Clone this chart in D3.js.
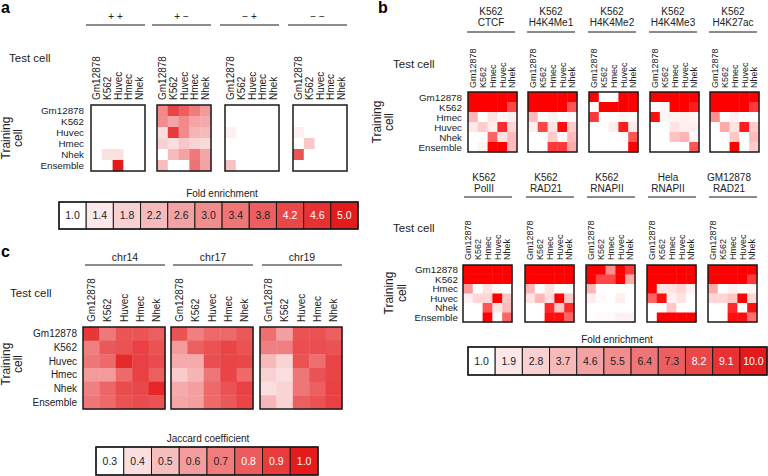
<!DOCTYPE html>
<html><head><meta charset="utf-8">
<script src="https://cdn.jsdelivr.net/npm/d3@7"></script>
<style>
body{margin:0;background:#fff}
svg{display:block}
text{font-family:"Liberation Sans",Arial,Helvetica,sans-serif;fill:#222}
</style></head>
<body><svg id="fig" width="768" height="476"></svg>
<script>
// ---------------- DATA ----------------
// Panel a
const testCellsA = ["Gm12878","K562","Huvec","Hmec","Nhek"];
const trainCellsA = ["Gm12878","K562","Huvec","Hmec","Nhek","Ensemble"];
const groupsA = ["+ +","+ \u2212","\u2212 +","\u2212 \u2212"];
const foldPP = [
  [1,1,1,1,1],[1,1,1,1,1],[1,1,1,1,1],[1,1,1,1,1],[1,1.55,1.55,1,1],[1,1,5.0,1,1]];
const foldPM = [
  [3.06,4.28,3.82,3.27,2.76],
  [3.0,2.59,3.04,2.59,2.48],
  [1.62,4.44,3.04,2.3,2.2],
  [1.8,1.58,2.0,1.76,1.67],
  [1.0,2.18,2.62,3.36,2.57],
  [2.16,1.0,1.0,3.45,2.62]];
const foldMP = [
  [1,1,1,1,1],[1,1,1,1,1],[1.26,1,1,1,1],[1,1,1,1,1],[1,1,1,1,1],[2.06,1,1,1,1]];
const foldMM = [
  [1,1,1,1,1],[1,1,1,1,1],[1.26,1,1,1,1],[1,1.95,1,1,1],[4.0,1,1,1,1],[1,1,1,1,1]];
const legendTicksA = ["1.0","1.4","1.8","2.2","2.6","3.0","3.4","3.8","4.2","4.6","5.0"];

// Panel b
const testCellsB = ["Gm12878","K562","Hmec","Huvec","Nhek"];
const trainCellsB = ["Gm12878","K562","Hmec","Huvec","Nhek","Ensemble"];
const titlesBTop = [["K562","CTCF"],["K562","H4K4Me1"],["K562","H4K4Me2"],["K562","H4K4Me3"],["K562","H4K27ac"]];
const titlesBBottom = [["K562","PolII"],["K562","RAD21"],["K562","RNAPII"],["Hela","RNAPII"],["GM12878","RAD21"]];
const foldCTCF = [
  [10,10,10,10,10],[10,10,10,10,7.5],[3.6,1,2.0,1.2,1.6],[1.8,2.8,1.6,8.5,2.5],[1,1,6.5,2.0,3.4],[1,1.4,10,10,3.4]];
const foldH4K4Me1 = [
  [10,10,10,10,10],[10,10,10,10,7],[3.4,1,1.4,1,1.2],[1.6,7.5,2.0,9.5,2.8],[1,1,2.8,1.2,3.4],[1,1,8,8,4]];
const foldH4K4Me2 = [
  [10,1,1,10,10],[1,10,10,10,10],[8,1,1,1.3,1.2],[1,1,1.6,9,1.8],[1,1,1,1,7],[1,1,1,1,10]];
const foldH4K4Me3 = [
  [10,10,10,10,10],[1,1.3,10,10,9],[9.5,1.4,1.4,1.6,1.3],[1,1,2,1.6,1.6],[1,1,3.2,3.6,1.2],[1,1,1,1,7]];
const foldH4K27ac = [
  [10,10,10,10,10],[10,10,10,10,8],[5,1,1.5,1,1],[1,4,2,9,2.8],[1,1,3,1,3.4],[1,1,10,1,2.8]];
const foldPolII = [
  [10,10,10,10,10],[10,10,10,10,10],[4.6,1,2,1.2,1],[1.5,2.5,2.5,10,3],[1,1,7,2,3.5],[1,1,10,1,6.5]];
const foldRAD21 = [
  [10,10,10,10,10],[10,10,10,10,10],[3.6,1,2,1,1],[2,3.5,2.2,10,3],[1,1,8.5,3,8.5],[1,1,9.5,9.5,6.5]];
const foldRNAPII = [
  [10,10,5,10,8],[10,7.5,7.5,10,4],[3.6,1,1,1,1],[1.6,1.2,1,1.6,1],[1,1,1,1,1],[1,1.2,1.2,1.5,1.5]];
const foldHelaRNAPII = [
  [10,10,10,10,10],[10,10,10,10,10],[10,2,2,2.5,1.5],[6.5,9.5,1.5,2,1],[1,1,3,1,1],[1,10,10,10,10]];
const foldGMRAD21 = [
  [10,10,10,10,10],[10,10,10,10,8],[4,1,1.5,1,1.3],[2.5,2.5,3,10,2.5],[1,1,8.5,1,9.5],[1,1,9.5,9.5,6]];
const legendTicksB = ["1.0","1.9","2.8","3.7","4.6","5.5","6.4","7.3","8.2","9.1","10.0"];

// Panel c
const testCellsC = ["Gm12878","K562","Huvec","Hmec","Nhek"];
const trainCellsC = ["Gm12878","K562","Huvec","Hmec","Nhek","Ensemble"];
const chromsC = ["chr14","chr17","chr19"];
const jacChr14 = [
  [0.91,0.71,0.82,0.82,0.79],
  [0.69,0.81,0.83,0.88,0.83],
  [0.72,0.76,0.95,0.88,0.85],
  [0.61,0.61,0.76,0.88,0.79],
  [0.69,0.77,0.85,0.86,0.96],
  [0.72,0.76,0.83,0.85,0.83]];
const jacChr17 = [
  [0.83,0.69,0.76,0.76,0.81],
  [0.61,0.79,0.83,0.87,0.83],
  [0.56,0.56,0.84,0.87,0.86],
  [0.46,0.53,0.72,0.87,0.76],
  [0.56,0.59,0.76,0.83,0.88],
  [0.57,0.59,0.76,0.81,0.87]];
const jacChr19 = [
  [0.74,0.59,0.83,0.83,0.79],
  [0.69,0.69,0.84,0.84,0.83],
  [0.51,0.43,0.83,0.74,0.87],
  [0.44,0.40,0.72,0.83,0.87],
  [0.40,0.43,0.72,0.79,0.88],
  [0.52,0.43,0.79,0.83,0.88]];
const legendTicksC = ["0.3","0.4","0.5","0.6","0.7","0.8","0.9","1.0"];

// ---------------- DRAW ----------------
const svg = d3.select("#fig");
const FONT_DARK = "#222";
const BORDER = "#1a1a1a";

const colorA = d3.scaleLinear().domain([1,5]).range(["#ffffff","#e41a1c"]).interpolate(d3.interpolateRgb).clamp(true);
const colorB = d3.scaleLinear().domain([1,10]).range(["#ffffff","#ff0000"]).interpolate(d3.interpolateRgb).clamp(true);
const colorBLegend = d3.scaleLinear().domain([1,10]).range(["#ffffff","#e41a1c"]).interpolate(d3.interpolateRgb).clamp(true);
const colorC = d3.scaleLinear().domain([0.3,1.0]).range(["#ffffff","#e41a1c"]).interpolate(d3.interpolateRgb).clamp(true);

function heatmap(o) {
  const xs = d3.scaleBand().domain(o.cols).range([o.x, o.x + o.w]);
  const ys = d3.scaleBand().domain(o.rows).range([o.y, o.y + o.h]);
  const g = svg.append("g");
  const cells = [];
  o.rows.forEach((r, i) => o.cols.forEach((c, j) => cells.push({r, c, v: o.values[i][j]})));
  g.selectAll("rect.cell").data(cells).join("rect")
    .attr("class","cell")
    .attr("x", d => xs(d.c)).attr("y", d => ys(d.r))
    .attr("width", xs.bandwidth() + 0.4).attr("height", ys.bandwidth() + 0.4)
    .attr("fill", d => o.color(d.v));
  g.append("rect").attr("x", o.x).attr("y", o.y).attr("width", o.w).attr("height", o.h)
    .attr("fill","none").attr("stroke", BORDER).attr("stroke-width", 1.5);
  g.selectAll("text.col").data(o.cols).join("text")
    .attr("class","col")
    .attr("transform", d => `translate(${xs(d) + xs.bandwidth()/2},${o.labelBottom}) rotate(-90)`)
    .attr("dy","0.36em").attr("font-size", o.colFont).text(d => d);
  return {xs, ys};
}

function rowLabels(ys, rows, xRight, fs) {
  svg.append("g").selectAll("text").data(rows).join("text")
    .attr("x", xRight).attr("y", d => ys(d) + ys.bandwidth()/2)
    .attr("dy","0.36em").attr("text-anchor","end").attr("font-size", fs).text(d => d);
}

function trainingLabel(x1, x2, cy) {
  svg.append("text").attr("transform", `translate(${x1},${cy}) rotate(-90)`)
    .attr("text-anchor","middle").attr("font-size", 12).text("Training");
  svg.append("text").attr("transform", `translate(${x2},${cy}) rotate(-90)`)
    .attr("text-anchor","middle").attr("font-size", 12).text("cell");
}

function legend(o) {
  const xs = d3.scaleBand().domain(o.ticks).range([o.x, o.x + o.w]);
  const g = svg.append("g");
  g.selectAll("rect").data(o.ticks).join("rect")
    .attr("x", d => xs(d)).attr("y", o.y).attr("width", xs.bandwidth()).attr("height", o.h)
    .attr("fill", d => o.color(+d)).attr("stroke", BORDER).attr("stroke-width", 1);
  g.append("rect").attr("x", o.x).attr("y", o.y).attr("width", o.w).attr("height", o.h)
    .attr("fill","none").attr("stroke", BORDER).attr("stroke-width", 1.5);
  g.selectAll("text.v").data(o.ticks).join("text").attr("class","v")
    .attr("x", d => xs(d) + xs.bandwidth()/2).attr("y", o.y + o.h/2).attr("dy","0.36em")
    .attr("text-anchor","middle").attr("font-size", 10.5)
    .style("fill", (d,i) => i >= o.ticks.length - 3 ? "#fff" : FONT_DARK).text(d => d);
  svg.append("text").attr("x", o.titleX).attr("y", o.titleY).attr("text-anchor","middle")
    .attr("font-size", 10).text(o.title);
}

function panelLetter(t, x, y) {
  svg.append("text").attr("x", x).attr("y", y).attr("font-size", 16).attr("font-weight","bold").style("fill","#000").text(t);
}

// ---- Panel a ----
panelLetter("a", 1, 13);
const aX = [91, 157, 225, 293];
const aVals = [foldPP, foldPM, foldMP, foldMM];
let aScales;
groupsA.forEach((gName, k) => {
  const x = aX[k], w = 54;
  const s = heatmap({x, y:105, w, h:66, cols:testCellsA, rows:trainCellsA, values:aVals[k], color:colorA, labelBottom:100, colFont:10});
  if (k === 0) aScales = s;
  svg.append("line").attr("x1", x - 5).attr("x2", x + w).attr("y1", 25).attr("y2", 25).attr("stroke", BORDER).attr("stroke-width", 1.2);
  svg.append("text").attr("x", x + w/2 - 2.5).attr("y", 20).attr("text-anchor","middle").attr("font-size", 10).text(gName);
});
svg.append("text").attr("x", 9).attr("y", 62).attr("font-size", 11.5).text("Test cell");
rowLabels(aScales.ys, trainCellsA, 84, 9.8);
trainingLabel(9.5, 22, 138);
legend({x:59, y:202, w:299, h:27, ticks:legendTicksA, color:colorA, title:"Fold enrichment", titleX:222, titleY:197});

// ---- Panel b ----
panelLetter("b", 378, 13);
const bTopX = [468, 528, 589, 650, 710];
const bTopVals = [foldCTCF, foldH4K4Me1, foldH4K4Me2, foldH4K4Me3, foldH4K27ac];
let bTopScales;
titlesBTop.forEach((t, k) => {
  const x = bTopX[k], w = 49;
  const s = heatmap({x, y:92, w, h:60, cols:testCellsB, rows:trainCellsB, values:bTopVals[k], color:colorB, labelBottom:88, colFont:9});
  if (k === 0) bTopScales = s;
  svg.append("line").attr("x1", x - 1).attr("x2", x + 47).attr("y1", 32).attr("y2", 32).attr("stroke", BORDER).attr("stroke-width", 1.2);
  svg.append("text").attr("x", x + 23).attr("y", 15).attr("text-anchor","middle").attr("font-size", 10).text(t[0]);
  svg.append("text").attr("x", x + 23).attr("y", 25.5).attr("text-anchor","middle").attr("font-size", 10).text(t[1]);
});
svg.append("text").attr("x", 393).attr("y", 68).attr("font-size", 11.5).text("Test cell");
rowLabels(bTopScales.ys, trainCellsB, 462, 9.8);
trainingLabel(381, 393, 122);

const bBotX = [463, 525, 586, 647, 708];
const bBotVals = [foldPolII, foldRAD21, foldRNAPII, foldHelaRNAPII, foldGMRAD21];
let bBotScales;
titlesBBottom.forEach((t, k) => {
  const x = bBotX[k], w = 49;
  const s = heatmap({x, y:265, w, h:57, cols:testCellsB, rows:trainCellsB, values:bBotVals[k], color:colorB, labelBottom:260, colFont:9});
  if (k === 0) bBotScales = s;
  svg.append("line").attr("x1", x + 1).attr("x2", x + 49).attr("y1", 197).attr("y2", 197).attr("stroke", BORDER).attr("stroke-width", 1.2);
  svg.append("text").attr("x", x + 21).attr("y", 181).attr("text-anchor","middle").attr("font-size", 10).text(t[0]);
  svg.append("text").attr("x", x + 21).attr("y", 192).attr("text-anchor","middle").attr("font-size", 10).text(t[1]);
});
svg.append("text").attr("x", 393).attr("y", 232).attr("font-size", 11.5).text("Test cell");
rowLabels(bBotScales.ys, trainCellsB, 458, 9.8);
trainingLabel(393, 406, 293);
legend({x:468, y:347, w:299, h:28, ticks:legendTicksB, color:colorBLegend, title:"Fold enrichment", titleX:617, titleY:343});

// ---- Panel c ----
panelLetter("c", 1, 257);
const cX = [83, 171, 260];
const cVals = [jacChr14, jacChr17, jacChr19];
let cScales;
chromsC.forEach((ch, k) => {
  const x = cX[k], w = 82;
  const s = heatmap({x, y:327, w, h:82, cols:testCellsC, rows:trainCellsC, values:cVals[k], color:colorC, labelBottom:322, colFont:10});
  if (k === 0) cScales = s;
  svg.append("line").attr("x1", x + 2).attr("x2", x + w).attr("y1", 265).attr("y2", 265).attr("stroke", BORDER).attr("stroke-width", 1.2);
  svg.append("text").attr("x", x + w/2 + 1).attr("y", 261).attr("text-anchor","middle").attr("font-size", 10.5).text(ch);
});
svg.append("text").attr("x", 10).attr("y", 297).attr("font-size", 11.5).text("Test cell");
rowLabels(cScales.ys, trainCellsC, 77, 10);
trainingLabel(10, 22, 364);
legend({x:96, y:447, w:222, h:28, ticks:legendTicksC, color:colorC, title:"Jaccard coefficient", titleX:208, titleY:442});
</script>
</body></html>
